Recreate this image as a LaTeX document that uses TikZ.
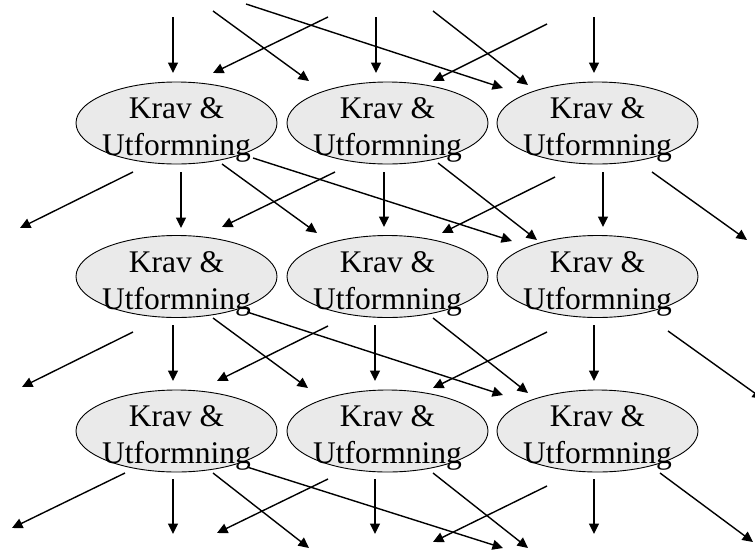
\documentclass[tikz,border=0pt]{standalone}
\usepackage{fontspec}
\setmainfont{Liberation Serif}
\usetikzlibrary{shapes.geometric,arrows.meta}
\definecolor{ellfill}{HTML}{EAEAEA}
\tikzset{
  ell/.style={ellipse, draw=black, line width=0.9pt, fill=ellfill,
    minimum width=201pt, minimum height=82pt, inner sep=0pt},
  lbl/.style={align=center, inner sep=0pt, yshift=-7pt,
    font=\fontsize{31.5}{37}\selectfont},
  arr/.style={line width=1.4pt, -{Triangle[length=10.5pt,width=10pt]}}
}
\begin{document}
\begin{tikzpicture}[x=1pt,y=-1pt]
\useasboundingbox (0,0) rectangle (755,549);
\clip (0,0) rectangle (755,549);
% ellipses with their labels
\foreach \r/\yy in {1/123,2/276.5,3/431}{
  \foreach \c/\xx in {1/176.5,2/387.5,3/597.5}{
    \node[ell] (e\r\c) at (\xx,\yy) {};
    \node[lbl] (t\r\c) at (e\r\c.center) {Krav \&\\Utformning};
  }
}
% arrows
\foreach \ax/\ay/\bx/\by in {
  173/17/173/73, 213/11/309/81, 246/4/503/88, 328/17/213/73,
  376/17/376/73, 433/11/528/85, 547/24/433/81, 594/17/594/73,
  133/172/20/228, 181/172/181/228, 222/164/317/233, 253/158/512/241,
  335/172/222/227, 384/172/384/227, 438/163/537/240, 555/177/442/233,
  603/172/603/227, 652/172/747/240,
  133/332/22/387, 173/325/173/381, 213/318/308/388, 247/312/503/395,
  328/326/217/381, 375/325/375/381, 433/318/528/393, 547/332/433/388,
  594/325/594/381, 668/331/763/399,
  125/473/12/528, 173/479/173/534, 213/473/309/548, 247/467/503/548,
  328/479/217/533, 375/479/375/534, 433/473/528/548, 547/486/433/542,
  594/479/594/534, 660/473/753/542}{
  \draw[arr] (\ax,\ay) -- (\bx,\by);
}
\end{tikzpicture}
\end{document}
